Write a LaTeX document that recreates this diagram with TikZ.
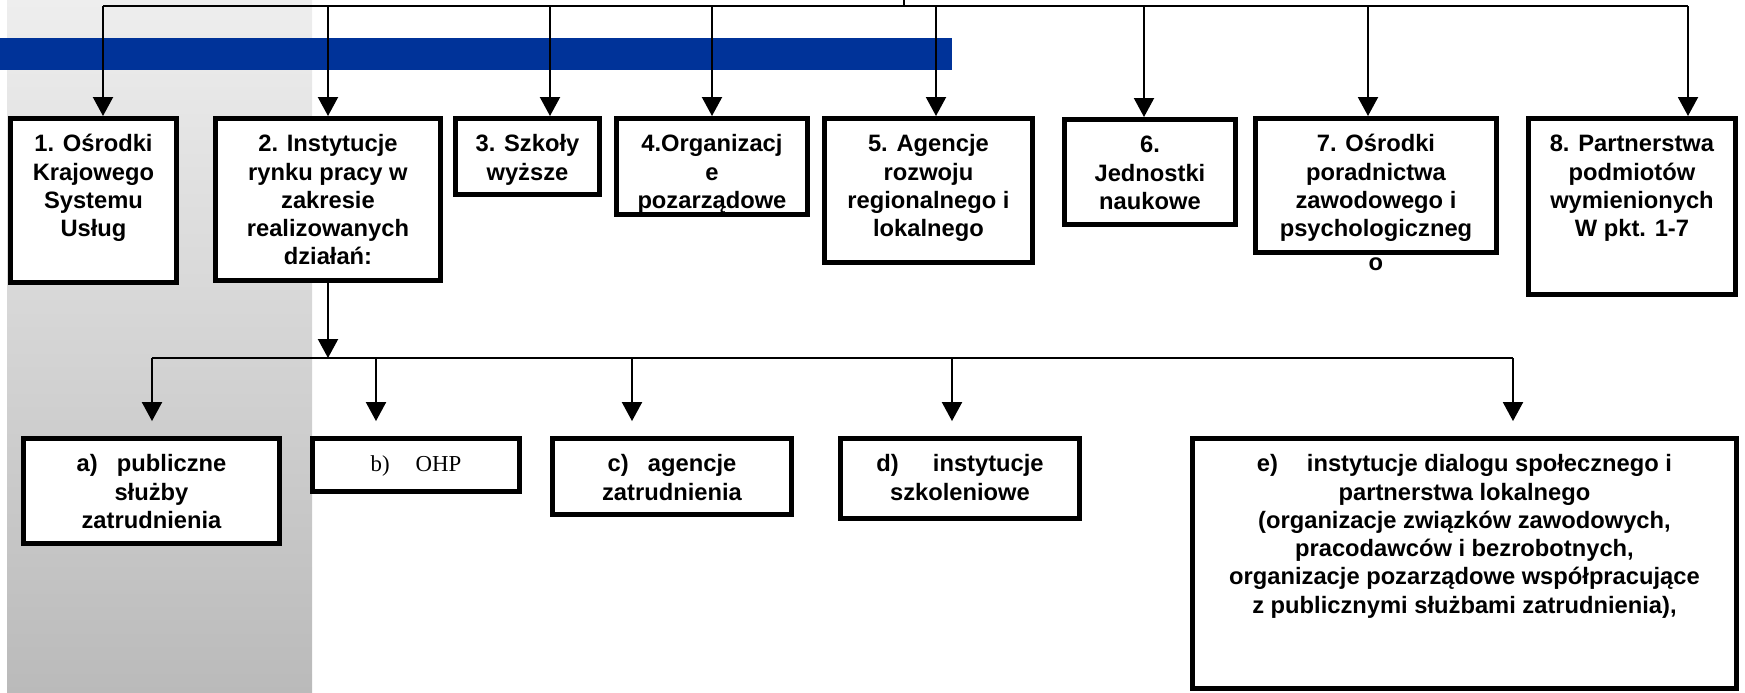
\documentclass[tikz,border=0pt]{standalone}
\usepackage{fontspec}
\setmainfont{Liberation Sans}
\newfontfamily\szeryf{Liberation Serif}
\usetikzlibrary{arrows.meta}
\definecolor{niebieski}{RGB}{0,51,153}
\definecolor{szarygora}{RGB}{238,238,238}
\definecolor{szarydol}{RGB}{186,186,186}

\begin{document}
\begin{tikzpicture}[x=0.02cm, y=-0.02cm,
    ramka/.style={draw, fill=white, line width=2.8pt, inner sep=0pt, anchor=north west,
        font=\bfseries\fontsize{13.5}{16.1}\selectfont},
    strzalka/.style={line width=1.1pt, -{Triangle[width=11.4pt,length=10.8pt]}},
    linia/.style={line width=0.9pt}]
\useasboundingbox (0,0) rectangle (1745,693);
\shade[top color=szarygora, bottom color=szarydol] (7,0) rectangle (312,693);
\fill[niebieski] (0,38) rectangle (952,70);

\foreach \nazwa/\x/\y/\w/\h/\tekst in {
    b1/8/116/171/169/{1. Ośrodki\\Krajowego\\Systemu\\Usług},
    b2/213/116/230/167/{2. Instytucje\\rynku pracy w\\zakresie\\realizowanych\\działań:},
    b3/453/116/149/81/{3. Szkoły\\wyższe},
    b4/614/116/196/101/{4.Organizacj\\e\\pozarządowe},
    b5/822/116/213/149/{5. Agencje\\rozwoju\\regionalnego i\\lokalnego},
    b6/1062/117/176/110/{6.\\Jednostki\\naukowe},
    b7/1253/116/246/139/{7. Ośrodki\\poradnictwa\\zawodowego i\\psychologiczneg\\[3pt]o},
    b8/1526/116/212/181/{8. Partnerstwa\\podmiotów\\wymienionych\\W pkt. 1-7},
    ba/21/436/261/110/{a)\hspace{11pt}publiczne\\służby\\zatrudnienia},
    bb/310/436/212/58/{\szeryf\mdseries\fontsize{13}{16}\selectfont b)\hspace{14.8pt}OHP},
    bc/550/436/244/81/{c)\hspace{11pt}agencje\\zatrudnienia},
    bd/838/436/244/85/{d)\hspace{19.5pt}instytucje\\szkoleniowe},
    be/1190/436/549/255/{e)\hspace{16.5pt}instytucje dialogu społecznego i\\partnerstwa lokalnego\\(organizacje związków zawodowych,\\pracodawców i bezrobotnych,\\organizacje pozarządowe współpracujące\\z publicznymi służbami zatrudnienia),}%
}{
    \pgfmathsetlengthmacro{\szer}{(\w-5)*0.02cm}
    \pgfmathsetlengthmacro{\wys}{(\h-5)*0.02cm}
    \node[ramka] (\nazwa) at (\x,\y) {\parbox[t][\wys][t]{\szer}{\centering\rule{0pt}{19pt}\tekst}};
}

\foreach \nazwa/\x in {b1/103, b2/328, b3/550, b4/712, b5/936, b6/1144, b7/1368, b8/1688}{
    \coordinate (g\nazwa) at (\x,6);
    \draw[strzalka] (g\nazwa) -- (g\nazwa |- \nazwa.north);
}
\draw[linia] (gb1) -- (gb8);
\coordinate (wejscie) at (904,0);
\draw[linia] (wejscie) -- (wejscie |- gb1);

\coordinate (wezel) at (328,358);
\draw[strzalka] (b2.south -| wezel) -- (wezel);
\foreach \nazwa/\x in {ba/152, bb/376, bc/632, bd/952, be/1513}{
    \coordinate (d\nazwa) at (\x,358);
    \draw[strzalka, shorten >=8.5pt] (d\nazwa) -- (d\nazwa |- \nazwa.north);
}
\draw[linia] (dba) -- (dbe);
\end{tikzpicture}
\end{document}
